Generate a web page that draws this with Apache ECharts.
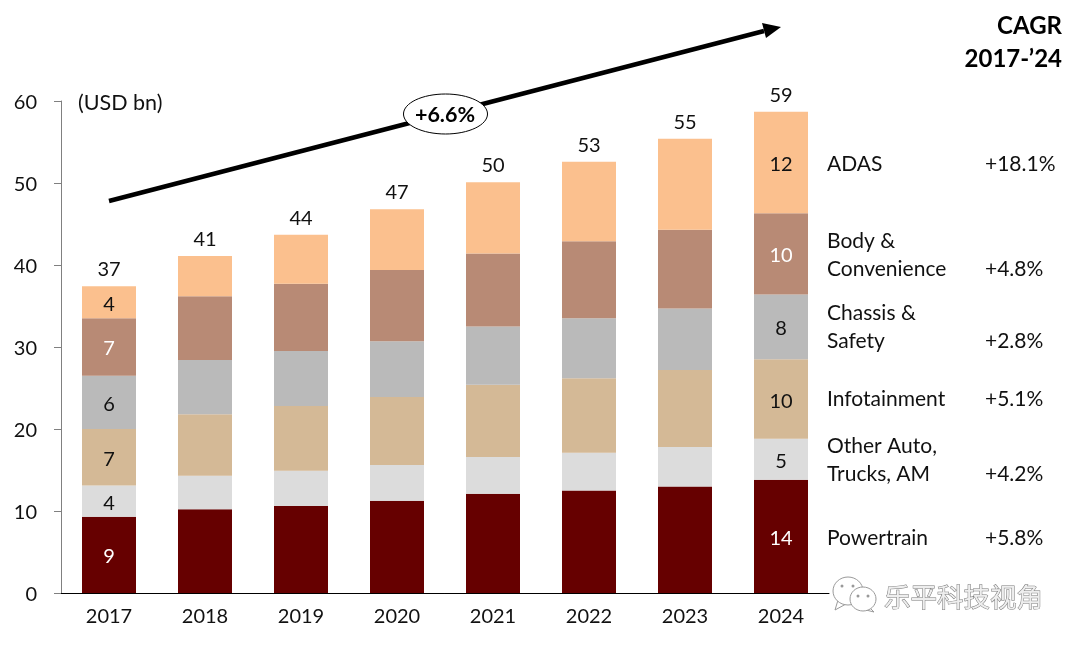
<!DOCTYPE html>
<html><head><meta charset="utf-8">
<style>html,body{margin:0;padding:0;background:#fff}#c{width:1080px;height:645px}</style>
<script src="https://cdn.jsdelivr.net/npm/echarts@6/dist/echarts.min.js"></script>
</head><body><div id="c"></div>
<script>
const categories = ['2017','2018','2019','2020','2021','2022','2023','2024'];
const powertrain = [9.3,10.2,10.6,11.25,12.1,12.5,13,13.8];
const otherAuto  = [3.8,4.1,4.3,4.35,4.5,4.6,4.8,5.0];
const infotainment = [6.9,7.5,7.9,8.3,8.8,9.1,9.4,9.7];
const chassis = [6.5,6.6,6.7,6.8,7.1,7.3,7.5,7.9];
const body = [7.0,7.8,8.2,8.7,8.9,9.4,9.6,9.9];
const adas = [3.9,4.9,6.0,7.4,8.7,9.7,11.1,12.4];
const totals = [37.4,41.1,43.7,46.8,50.1,52.6,55.4,58.7];
const totalLabels = [37,41,44,47,50,53,55,59];
const firstLabels = [9,4,7,6,7,4];
const lastLabels = [14,5,10,8,10,12];
const seriesNames = ['Powertrain','Other Auto, Trucks, AM','Infotainment','Chassis & Safety','Body & Convenience','ADAS'];
const seriesColors = ['#660000','#DCDCDC','#D4B996','#BABABA','#B88A75','#FBC08E'];
const labelColors = ['#fff','#111','#111','#111','#fff','#111'];
const seriesData = [powertrain,otherAuto,infotainment,chassis,body,adas];
const legendRows = [
  ['ADAS',164,'+18.1%',164],
  ['Body &\nConvenience',255,'+4.8%',269],
  ['Chassis &\nSafety',327,'+2.8%',341],
  ['Infotainment',399,'+5.1%',399],
  ['Other Auto,\nTrucks, AM',460,'+4.2%',474],
  ['Powertrain',538,'+5.8%',538]
];
const FONT = 'Lato';
const bars = seriesData.map((vals,i)=>({
  name: seriesNames[i], type:'bar', stack:'t', barWidth:54, silent:true,
  itemStyle:{color:seriesColors[i]},
  data: vals.map((v,j)=>{
    const txt = j===0 ? firstLabels[i] : j===7 ? lastLabels[i] : null;
    return {value:v, label: txt===null ? {show:false} : {show:true, position:'inside', offset:[0,2], formatter:String(txt),
      color: labelColors[i], fontFamily:FONT, fontSize:20}};
  })
}));
const t = (text,x,y,extra)=>({type:'text',x,y,silent:true,style:Object.assign({text,fill:'#111',fontFamily:FONT,fontSize:21,lineHeight:28,verticalAlign:'middle',align:'left'},extra||{})});
const graphic = [
  {type:'line',silent:true,z:5,shape:{x1:109,y1:201,x2:764,y2:31},style:{stroke:'#000',lineWidth:4.5}},
  {type:'polygon',silent:true,z:5,shape:{points:[[781,27],[762,23],[766,38]]},style:{fill:'#000'}},
  {type:'ellipse',silent:true,z:6,shape:{cx:445.5,cy:114,rx:42,ry:20},style:{fill:'#fff',stroke:'#000',lineWidth:1}},
  Object.assign(t('+6.6%',445,115,{align:'center',fontWeight:'bold',fill:'#000',fontSize:21.5}),{z:7}),
  t('(USD bn)',78,103,{fontSize:21.5}),
  t('CAGR',1062,26,{align:'right',fontWeight:'bold',fontSize:24,fill:'#000'}),
  t('2017-’24',1062,59,{align:'right',fontWeight:'bold',fontSize:24,fill:'#000'}),
  {type:'polygon',silent:true,shape:{points:[[838,600],[835,610],[846,604]]},style:{fill:'#fff',stroke:'#999',lineWidth:1}},
  {type:'ellipse',silent:true,shape:{cx:848,cy:591,rx:15,ry:14},style:{fill:'#fff',stroke:'#999',lineWidth:1}},
  {type:'circle',silent:true,shape:{cx:842,cy:586,r:1.5},style:{fill:'#999'}},
  {type:'circle',silent:true,shape:{cx:853,cy:586,r:1.5},style:{fill:'#999'}},
  {type:'polygon',silent:true,shape:{points:[[868,606],[874,612],[862,609]]},style:{fill:'#fff',stroke:'#999',lineWidth:1}},
  {type:'ellipse',silent:true,shape:{cx:863,cy:599,rx:13,ry:12},style:{fill:'#fff',stroke:'#999',lineWidth:1}},
  {type:'circle',silent:true,shape:{cx:858,cy:596,r:1.5},style:{fill:'#999'}},
  {type:'circle',silent:true,shape:{cx:868,cy:596,r:1.5},style:{fill:'#999'}},
  t('乐平科技视角',884,597,{fontFamily:'Noto Sans CJK SC',fontSize:26.5,fill:'#eeeeee',stroke:'#777',lineWidth:1})
];
legendRows.forEach(r=>{
  graphic.push(t(r[0],827,r[1]));
  graphic.push(t(r[2],985,r[3]));
});
const chart = echarts.init(document.getElementById('c'),null,{renderer:'canvas'});
chart.setOption({
  animation:false,
  textStyle:{fontFamily:FONT},
  grid:{left:61,right:251,top:101,bottom:52},
  xAxis:{type:'category',data:categories,
    axisLine:{lineStyle:{color:'#000',width:1}},axisTick:{show:false},
    axisLabel:{color:'#111',fontFamily:FONT,fontSize:20,margin:14}},
  yAxis:{type:'value',min:0,max:60,interval:10,splitLine:{show:false},
    axisLine:{show:true,lineStyle:{color:'#808080',width:1}},
    axisTick:{show:true,length:7,lineStyle:{color:'#808080'}},
    axisLabel:{color:'#111',fontFamily:FONT,fontSize:20,margin:24,verticalAlign:'top',lineHeight:4}},
  series: bars.concat([{
    name:'Total',type:'line',data:totals,symbol:'circle',symbolSize:1,silent:true,
    lineStyle:{opacity:0},itemStyle:{color:'rgba(0,0,0,0)'},
    label:{show:true,position:'top',distance:6,color:'#111',fontFamily:FONT,fontSize:20,
      formatter:p=>String(totalLabels[p.dataIndex])}
  }]),
  graphic
});
</script></body></html>
